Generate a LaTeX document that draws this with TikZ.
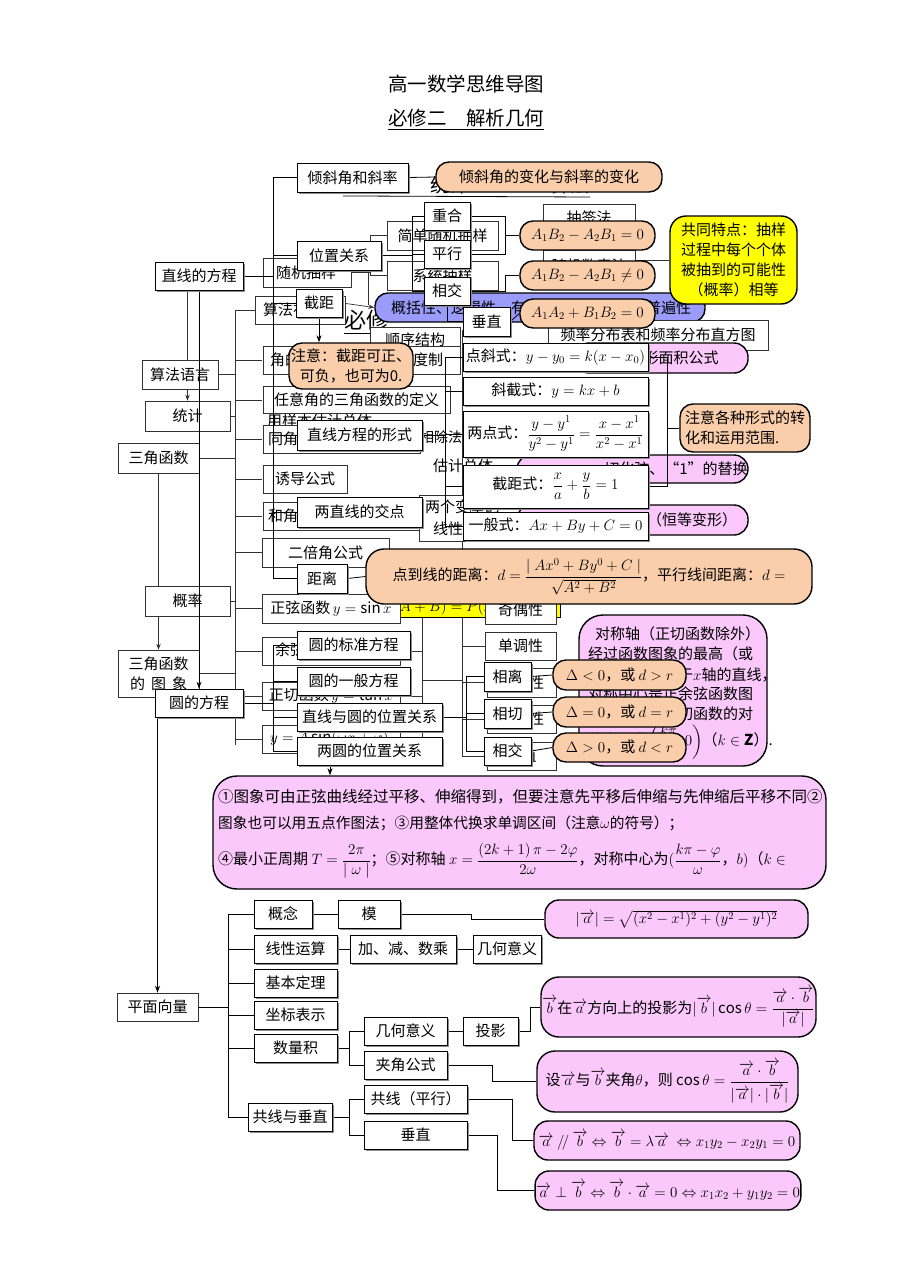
\RequirePackage{fix-cm}
\documentclass[tikz,border=0pt]{standalone}
\usepackage{amsmath}
\usepackage{fontspec}
\setmainfont{Noto Sans CJK SC}
\usetikzlibrary{shadows,arrows.meta}
\definecolor{peach}{RGB}{250,206,170}
\definecolor{pinkb}{RGB}{250,200,250}
\definecolor{blueb}{RGB}{155,155,250}
\definecolor{yelb}{RGB}{255,255,0}
\pgfdeclarelayer{Lzero}\pgfdeclarelayer{Lone}\pgfdeclarelayer{Ltwo}
\pgfsetlayers{Lzero,Lone,Ltwo,main}
\newcommand\BX[7]{\node[#6,minimum width={#4-#2},minimum height={#5-#3}] (#1) at ({(#2+#4)/2},{(#3+#5)/2}) {#7};}
\begin{document}
\begin{tikzpicture}[x=1pt,y=-1pt,
 every node/.style={font=\fontsize{15}{18}\selectfont,inner sep=1pt},
 fb/.style={draw=black,fill=white,line width=0.7pt,general shadow={fill=black!45,shadow xshift=1.5pt,shadow yshift=-1.5pt}},
 bb/.style={draw=black!80,fill=white,line width=0.6pt,general shadow={fill=black!35,shadow xshift=1.3pt,shadow yshift=-1.3pt}},
 op/.style={draw=black,fill=peach,line width=1.4pt,rounded corners=13pt},
 pk/.style={draw=black,fill=pinkb,line width=1.4pt,rounded corners=15pt},
 ln/.style={line width=0.8pt,black},
 bl/.style={line width=0.7pt,black!80},
 ar/.style={line width=0.8pt,-{Stealth[length=7pt,width=5pt]}},
 bar/.style={line width=0.7pt,black!80,-{Stealth[length=6pt,width=4.5pt]}},
 tx/.style={anchor=west,inner sep=0pt}]
\begin{pgfonlayer}{Lzero}
\fill[white] (0,0) rectangle (920,1274);
\end{pgfonlayer}
\useasboundingbox (0,0) rectangle (920,1274);

% ---------- titles ----------
\node (title) at (466,84) {\fontsize{19.5}{22}\selectfont 高一数学思维导图};
\node (sub) at (466,120) {\fontsize{19.5}{22}\selectfont\underline{必修二　解析几何}};

% ---------- background layer nodes ----------
\begin{pgfonlayer}{Lone}
\node[tx,font=\fontsize{19}{21}\selectfont] (bgta) at (343,185) {必修三};
\node[tx,font=\fontsize{19}{21}\selectfont] (bgtb) at (430,185) {统计};
\node[tx,font=\fontsize{19}{21}\selectfont] (bgtc) at (551,185) {算法};
\draw[line width=0.8pt] (bgta.south west) ++(0,2) -- (590,197);
\node (bgbx) at (366,322) {\fontsize{22}{24}\selectfont\underline{必修}};
\BX{blue}{375}{293}{705}{322}{draw=black,fill=blueb,line width=1.4pt,rounded corners=13pt}{}
\node (bluet) at (541,307.5) {概括性、逻辑性、有穷性、不唯一性、普遍性};
\BX{b5}{543}{204}{635}{232}{bb}{抽签法}
\BX{b6}{543}{250}{635}{282}{bb}{随机数表法}
\BX{b1}{387}{221}{498}{250}{bb}{简单随机抽样}
\BX{b2}{387}{261}{498}{290}{bb}{系统抽样}
\BX{b3}{263}{258}{351}{287}{bb}{}
\node[tx] (b3t) at (276,272.5) {随机抽样};
\BX{b4}{255}{296}{345}{324}{bb}{}
\node[tx] (b4t) at (263,310) {算法初步};
\BX{b7}{370}{327}{460}{352}{bb}{顺序结构}
\BX{b8}{548}{320}{768}{350}{bb}{频率分布表和频率分布直方图}
\BX{yel}{670}{216}{797}{304}{draw=black,fill=yelb,line width=1.4pt,rounded corners=16pt,align=center,font=\fontsize{15}{20}\selectfont}{共同特点：抽样\\过程中每个个体\\被抽到的可能性\\（概率）相等}
\BX{pka}{575}{343}{748}{373}{pk,rounded corners=14pt}{}
\node (pkat) at (651,358) {弧长与扇形面积公式};
\BX{pkb}{517}{455}{748}{483}{pk,rounded corners=14pt}{}
\node (pkbt) at (676,469) {切化弦、“1”的替换};
\BX{pkc}{517}{505}{748}{535}{pk,rounded corners=14pt}{}
\node (pkct) at (692,520) {（恒等变形）};
\BX{c1}{263}{346}{372}{374}{bb}{}
\node[tx] (c1t) at (270,360) {角的概念的推广};
\BX{c2}{380}{346}{460}{374}{bb}{}
\node[tx] (c2t) at (398,360) {弧度制};
\node[tx] (c3b) at (267,421) {用样本估计总体};
\BX{c3}{263}{386}{450}{413}{bb}{任意角的三角函数的定义}
\BX{c4}{263}{425}{420}{453}{bb}{}
\node[tx] (c4t) at (268,439) {同角三角函数关系};
\node[tx,font=\fontsize{14}{16}\selectfont] (c4b) at (392,437) {辗转相除法};
\node[tx] (c5b) at (433,466) {估计总体};
\BX{c5}{263}{465}{347}{493}{bb}{诱导公式}
\BX{c6}{263}{502}{420}{530}{bb}{}
\node[tx] (c6t) at (268,516) {和角与差角公式};
\BX{c7}{419}{495}{470}{541}{bb}{}
\node[tx] (c7t) at (425,507) {两个变量的};
\node[tx] (c7u) at (433,529) {线性相关};
\BX{c8}{262}{538}{389}{567}{bb}{二倍角公式}
\BX{ybar}{330}{598}{560}{617}{draw=black,fill=yelb,line width=0.6pt}{}
\node (ybart) at (468,607.5) {$P(A+B)=P(A)+P(B)$};
\BX{c9}{262}{594}{400}{623}{bb}{正弦函数\,$y=\sin x$}
\BX{c10}{262}{637}{400}{665}{bb}{}
\node[tx] (c10t) at (275,651) {余弦函数\,$y=\cos x$};
\BX{c11}{262}{682}{400}{710}{bb}{正切函数\,$y=\tan x$}
\BX{c12}{262}{725}{400}{753}{bb}{}
\node[tx] (c12t) at (270,739) {$y=A\sin(\omega x+\varphi)$};
\BX{d1}{485}{596}{556}{624}{bb}{奇偶性}
\BX{d2}{485}{632}{556}{660}{bb}{单调性}
\BX{d3}{487}{668}{556}{697}{bb}{周期性}
\BX{d4}{487}{705}{556}{733}{bb}{对称性}
\BX{d5}{487}{742}{556}{770}{bb}{最值}
\BX{sym}{579}{615}{767}{766}{pk,rounded corners=24pt}{}
\node[tx] (s1) at (595,634) {对称轴（正切函数除外）};
\node[tx] (s2) at (588,654) {经过函数图象的最高（或};
\node[tx] (s3) at (588,675) {低）点且垂直于$x$轴的直线，};
\node[tx] (s4) at (588,694) {对称中心是正余弦函数图};
\node[tx] (s5) at (588,714) {象的零点，正切函数的对};
\node[tx] (s6) at (588,742) {称中心为$\left(\dfrac{k\pi}{2},0\right)$（$k\in\mathbf{Z}$）.};
\BX{sfyy}{142}{360}{218}{389}{bb}{算法语言}
\BX{tj}{145}{401}{230}{431}{bb}{统计}
\BX{sjhs}{118}{443}{199}{473}{bb}{三角函数}
\BX{gl}{145}{586}{230}{616}{bb}{概率}
\BX{txg}{118}{650}{199}{697}{bb,align=center,font=\fontsize{15}{20}\selectfont}{三角函数\\的\hspace{6pt}图\hspace{6pt}象}
\BX{pmxl}{117}{993}{198}{1021}{bb}{平面向量}
\end{pgfonlayer}

% ---------- front layer nodes ----------
\BX{qx}{297}{163}{408}{192}{fb}{倾斜角和斜率}
\BX{p0}{436}{162}{662}{192}{op}{倾斜角的变化与斜率的变化}
\BX{zf}{155}{262}{243}{290}{fb}{直线的方程}
\BX{wz}{297}{241}{381}{270}{fb}{位置关系}
\BX{ch}{424}{202}{470}{230}{fb}{重合}
\BX{px}{424}{240}{470}{268}{fb}{平行}
\BX{xj}{424}{277}{470}{305}{fb}{相交}
\BX{jj}{296}{289}{342}{317}{fb}{截距}
\BX{cz}{463}{307}{510}{336}{fb}{垂直}
\BX{p1}{520}{221}{655}{250}{op}{$A_1B_2-A_2B_1=0$}
\BX{p2}{520}{261}{655}{290}{op}{$A_1B_2-A_2B_1\neq0$}
\BX{p3}{520}{299}{655}{328}{op}{$A_1A_2+B_1B_2=0$}
\BX{note1}{289}{343}{413}{389}{op,align=center,font=\fontsize{15}{20}\selectfont}{注意：截距可正、\\可负，也可为0.}
\BX{xs}{297}{420}{422}{450}{fb}{直线方程的形式}
\BX{jd}{297}{497}{422}{527}{fb}{两直线的交点}
\BX{jl}{297}{564}{347}{593}{fb}{距离}
\BX{f1}{463}{343}{648}{371}{fb}{点斜式：$y-y_0=k(x-x_0)$}
\BX{f2}{463}{377}{648}{405}{fb}{斜截式：$y=kx+b$}
\BX{f3}{463}{411}{648}{457}{fb}{两点式：$\dfrac{y-y^1}{y^2-y^1}=\dfrac{x-x^1}{x^2-x^1}$}
\BX{f4}{463}{465}{648}{508}{fb}{截距式：$\dfrac{x}{a}+\dfrac{y}{b}=1$}
\BX{f5}{463}{512}{648}{540}{fb}{一般式：$Ax+By+C=0$}
\BX{note2}{680}{404}{810}{452}{op,align=left,font=\fontsize{15}{20}\selectfont}{注意各种形式的转\\化和运用范围.}
\BX{dpill}{366}{549}{812}{604}{op,rounded corners=18pt}{点到线的距离：$d=\dfrac{|\;Ax^0+By^0+C\;|}{\sqrt{A^2+B^2}}$，平行线间距离：$d=$}
\BX{yf}{155}{689}{243}{717}{fb}{圆的方程}
\BX{bz}{297}{631}{410}{659}{fb}{圆的标准方程}
\BX{yb}{297}{667}{410}{695}{fb}{圆的一般方程}
\BX{zy}{297}{703}{442}{731}{fb}{直线与圆的位置关系}
\BX{ly}{297}{737}{442}{765}{fb}{两圆的位置关系}
\BX{xl}{484}{662}{531}{691}{fb}{相离}
\BX{xq}{484}{699}{531}{728}{fb}{相切}
\BX{xjj}{484}{737}{531}{765}{fb}{相交}
\BX{dla}{553}{660}{686}{690}{op}{$\Delta<0$，或 $d>r$}
\BX{dlb}{553}{697}{686}{727}{op}{$\Delta=0$，或 $d=r$}
\BX{dlc}{553}{733}{686}{762}{op}{$\Delta>0$，或 $d<r$}
\BX{bigp}{213}{776}{826}{889}{pk,rounded corners=24pt}{}
\node[tx,font=\fontsize{15.5}{18}\selectfont] (bpa) at (218,797) {①图象可由正弦曲线经过平移、伸缩得到，但要注意先平移后伸缩与先伸缩后平移不同②};
\node[tx,font=\fontsize{14.7}{18}\selectfont] (bpb) at (218,823) {图象也可以用五点作图法；③用整体代换求单调区间（注意$\omega$的符号）；};
\node[tx,font=\fontsize{15}{18}\selectfont] (bpc) at (218,861) {④最小正周期 $T=\dfrac{2\pi}{|\;\omega\;|}$；⑤对称轴 $x=\dfrac{(2k+1)\,\pi-2\varphi}{2\omega}$，对称中心为$(\dfrac{k\pi-\varphi}{\omega}$，$b)$（$k\in$};
% vectors
\BX{gn}{254}{900}{312}{928}{fb}{概念}
\BX{mo}{338}{900}{400}{928}{fb}{模}
\BX{xx}{254}{935}{337}{963}{fb}{线性运算}
\BX{jjs}{350}{935}{456}{963}{fb}{加、减、数乘}
\BX{jha}{473}{935}{541}{963}{fb}{几何意义}
\BX{jb}{254}{969}{337}{997}{fb}{基本定理}
\BX{zb}{254}{1001}{337}{1029}{fb}{坐标表示}
\BX{slj}{254}{1034}{337}{1062}{fb}{数量积}
\BX{jhb}{364}{1017}{447}{1045}{fb}{几何意义}
\BX{ty}{463}{1017}{518}{1045}{fb}{投影}
\BX{jjgs}{364}{1051}{447}{1079}{fb}{夹角公式}
\BX{gxcz}{248}{1103}{332}{1131}{fb}{共线与垂直}
\BX{gx}{364}{1085}{467}{1113}{fb}{共线（平行）}
\BX{czb}{364}{1121}{467}{1149}{fb}{垂直}
\BX{va}{545}{900}{808}{938}{pk,rounded corners=14pt}{$|\overrightarrow{a}|=\sqrt{(x^2-x^1)^2+(y^2-y^1)^2}$}
\BX{vb}{541}{977}{816}{1037}{pk,rounded corners=18pt}{$\overrightarrow{b}$在$\overrightarrow{a}$方向上的投影为$|\overrightarrow{b}|\cos\theta=\dfrac{\overrightarrow{a}\cdot\overrightarrow{b}}{|\overrightarrow{a}|}$}
\BX{vc}{537}{1051}{798}{1112}{pk,rounded corners=18pt}{设$\overrightarrow{a}$与$\overrightarrow{b}$夹角$\theta$，则 $\cos\theta=\dfrac{\overrightarrow{a}\cdot\overrightarrow{b}}{|\overrightarrow{a}|\cdot|\overrightarrow{b}|}$}
\BX{vd}{534}{1121}{800}{1160}{pk,rounded corners=14pt}{$\overrightarrow{a}\mathbin{/\!/}\overrightarrow{b}\Leftrightarrow\overrightarrow{b}=\lambda\overrightarrow{a}\ \Leftrightarrow x_1y_2-x_2y_1=0$}
\BX{ve}{536}{1171}{800}{1210}{pk,rounded corners=14pt}{$\overrightarrow{a}\perp\overrightarrow{b}\Leftrightarrow\overrightarrow{b}\cdot\overrightarrow{a}=0\Leftrightarrow x_1x_2+y_1y_2=0$}

% ---------- coordinates ----------
\coordinate (v235) at (235,0);
\coordinate (v422) at (422,0);
\coordinate (v462) at (462,0);
\coordinate (t273) at (273,0);
\coordinate (t412) at (412,0);
\coordinate (t505) at (505,0);
\coordinate (t445) at (445,0);
\coordinate (t667) at (667,0);
\coordinate (t466) at (466,0);
\coordinate (t330) at (330,0);
\coordinate (t228) at (228,0);
\coordinate (t349) at (349,0);
\coordinate (t471) at (471,0);
\coordinate (t530) at (530,0);
\coordinate (t492) at (492,0);
\coordinate (t512) at (512,0);
\coordinate (t497) at (497,0);

% ---------- background connectors ----------
\begin{pgfonlayer}{Lzero}
\draw[bl] (235,310) -- (235,745);
\foreach \yy in {310,360,400,439,479,516,552,608,651,696,739} \draw[bl] (235,\yy) -- (262,\yy);
\foreach \n in {sfyy,tj,sjhs,gl,txg} \draw[bl] (\n.east) -- (\n.east -| v235);
\draw[bar] (zf.south -| tj.north) -- (tj.north);
\draw[bar] (sjhs.south) -- (txg.north);
\draw[bar] (jj.east) -- (blue.west);
\draw[bl] (368,270) -- (368,305);
\draw[bl] (b3.east) -- (370,272.5);
\draw[bl] (370,235.5) -- (370,275.5);
\draw[bl] (370,235.5) -- (b1.west);
\draw[bl] (370,275.5) -- (b2.west);
\draw[bl] (636,260) -- (yel.west);
\draw[bl] (462,330) -- (462,756);
\foreach \n in {d1,d2,d3,d4,d5} \draw[bl] (\n.west) -- (\n.west -| v462);
\draw[bl] (422,608) -- (422,739);
\foreach \n in {c9,c10,c11,c12} \draw[bl] (\n.east) -- (\n.east -| v422);
\draw[bl] (422,680) -- (462,680);
\end{pgfonlayer}

% ---------- front connectors ----------
\begin{pgfonlayer}{Ltwo}
\draw[ln] (qx.west -| t273) -- (jl.west -| t273);
\foreach \n in {qx,wz,jj,xs,jd,jl} \draw[ln] (\n.west -| t273) -- (\n.west);
\draw[ln] (zf.east) -- (zf.east -| t273);
\draw[ln] (qx.east) -- (p0.west);
\draw[ln] (wz.east) -- (wz.east -| t412);
\draw[ln] (ch.west -| t412) -- (xj.west -| t412);
\foreach \n in {ch,px,xj} \draw[ln] (\n.west -| t412) -- (\n.west);
\draw[ln] (ch.east) -- (ch.east -| t505) -- (p1.west -| t505) -- (p1.west);
\draw[ln] (px.east) -- (px.east -| t505) -- (p1.west -| t505);
\draw[ln] (xj.east) -- (xj.east -| t505) -- (p2.west -| t505) -- (p2.west);
\draw[ln] (xj.south) |- (cz.west);
\draw[ln] (cz.east) -- (p3.west);
\draw[ar] (jj.south) -- (jj.south |- note1.north);
\draw[ln] (xs.east) -- (xs.east -| t445);
\draw[ln] (f1.west -| t445) -- (f5.west -| t445);
\foreach \n in {f1,f2,f3,f4,f5} \draw[ln] (\n.west -| t445) -- (\n.west);
\draw[ln] (f1.east) -- (f1.east -| t667) -- (f4.east -| t667) -- (f4.east);
\draw[ln] (note2.west -| t667) -- (note2.west);
\draw[ln] (jl.east) -- (dpill.west);
\draw[ln] (yf.east) -- (yf.east -| t273);
\draw[ln] (bz.west -| t273) -- (ly.west -| t273);
\foreach \n in {bz,yb,zy,ly} \draw[ln] (\n.west -| t273) -- (\n.west);
\draw[ln] (zy.east) -- (zy.east -| t466);
\draw[ln] (xl.west -| t466) -- (xjj.west -| t466);
\foreach \n in {xl,xq,xjj} \draw[ln] (\n.west -| t466) -- (\n.west);
\draw[ln] (xl.east) -- (dla.west);
\draw[ln] (xq.east) -- (dlb.west);
\draw[ln] (xjj.east) -- (dlc.west);
\draw[ar] (ly.south -| t330) -- (bigp.north -| t330);
\draw[ar] (zf.south) -- (yf.north);
\draw[ar] (yf.south -| pmxl.north) -- (pmxl.north);
\draw[ln] (pmxl.east) -- (pmxl.east -| t228);
\draw[ln] (gn.west -| t228) -- (gxcz.west -| t228);
\foreach \n in {gn,xx,jb,zb,slj,gxcz} \draw[ln] (\n.west -| t228) -- (\n.west);
\draw[ln] (gn.east) -- (mo.west);
\draw[ln] (xx.east) -- (jjs.west);
\draw[ln] (jjs.east) -- (jha.west);
\draw[ln] (mo.east) -- (mo.east -| t471) -- (va.west -| t471) -- (va.west);
\draw[ln] (slj.east) -- (slj.east -| t349);
\draw[ln] (jhb.west -| t349) -- (jjgs.west -| t349);
\draw[ln] (jhb.west -| t349) -- (jhb.west);
\draw[ln] (jjgs.west -| t349) -- (jjgs.west);
\draw[ln] (jhb.east) -- (ty.west);
\draw[ln] (ty.east) -- (ty.east -| t530) -- (vb.west -| t530) -- (vb.west);
\draw[ln] (jjgs.east) -- (jjgs.east -| t492) -- (vc.west -| t492) -- (vc.west);
\draw[ln] (gxcz.east) -- (gxcz.east -| t349);
\draw[ln] (gx.west -| t349) -- (czb.west -| t349);
\draw[ln] (gx.west -| t349) -- (gx.west);
\draw[ln] (czb.west -| t349) -- (czb.west);
\draw[ln] (gx.east) -- (gx.east -| t512) -- (vd.west -| t512) -- (vd.west);
\draw[ln] (czb.east) -- (czb.east -| t497) -- (ve.west -| t497) -- (ve.west);
\end{pgfonlayer}
\end{tikzpicture}
\end{document}
